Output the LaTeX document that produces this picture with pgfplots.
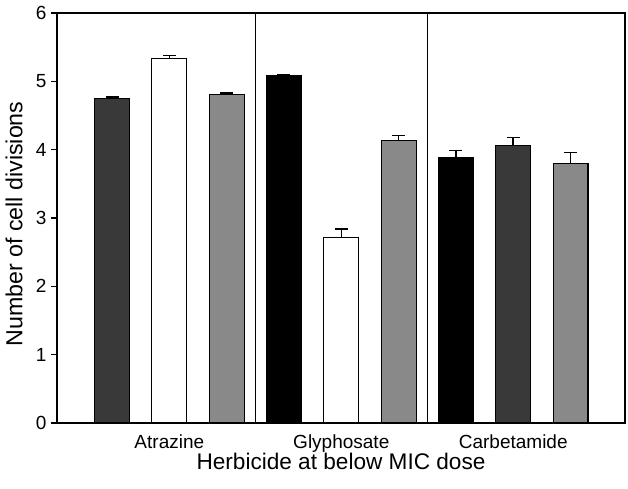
\documentclass[border=0pt]{standalone}
\usepackage{fontspec}
\setmainfont{Liberation Sans}
\usepackage{pgfplots}
\pgfplotsset{compat=1.18}
\definecolor{darkbar}{HTML}{393939}
\definecolor{greybar}{HTML}{898989}
\begin{document}
\begin{tikzpicture}
\begin{axis}[
  scale only axis,
  width=568bp, height=410bp,
  xmin=0.04, xmax=9.95,
  ymin=0, ymax=6,
  ytick={0,1,2,3,4,5,6},
  xtick={2,5,8},
  xticklabels={Atrazine,Glyphosate,Carbetamide},
  ytick pos=left,
  tick align=outside,
  major tick length=6bp,
  xtick style={draw=none},
  ytick style={black, line width=1.2bp},
  axis line style={black, line width=1.3bp},
  /pgf/number format/assume math mode=true,
  ticklabel style={font=\fontsize{19bp}{22bp}\selectfont},
  yticklabel style={xshift=-1bp},
  xticklabel style={yshift=-2bp},
  xlabel={Herbicide at below MIC dose},
  ylabel={Number of cell divisions},
  xlabel style={font=\fontsize{22.6bp}{26bp}\selectfont, at={(axis description cs:0.5,0)}, anchor=center, yshift=-38bp},
  ylabel style={font=\fontsize{23.2bp}{26bp}\selectfont, at={(axis description cs:0,0.5)}, anchor=center, rotate=0, yshift=43bp, xshift=-6bp},
  clip=false,
]
% dark grey bars
\addplot[ybar, bar width=0.61, bar shift=0pt, fill=darkbar, draw=black, line width=1.1bp,
  error bars/.cd, y dir=plus, y explicit,
  error bar style={line width=1.5bp, black},
  error mark options={rotate=90, line width=1.5bp, mark size=6.5bp, black}]
  coordinates {(1,4.75) +- (0,0.02) (8,4.06) +- (0,0.12)};
% white bars
\addplot[ybar, bar width=0.61, bar shift=0pt, fill=white, draw=black, line width=1.1bp,
  error bars/.cd, y dir=plus, y explicit,
  error bar style={line width=1.5bp, black},
  error mark options={rotate=90, line width=1.5bp, mark size=6.5bp, black}]
  coordinates {(2,5.33) +- (0,0.05) (5,2.72) +- (0,0.12)};
% grey bars
\addplot[ybar, bar width=0.61, bar shift=0pt, fill=greybar, draw=black, line width=1.1bp,
  error bars/.cd, y dir=plus, y explicit,
  error bar style={line width=1.5bp, black},
  error mark options={rotate=90, line width=1.5bp, mark size=6.5bp, black}]
  coordinates {(3,4.81) +- (0,0.02) (6,4.13) +- (0,0.08) (9,3.80) +- (0,0.16)};
% black bars
\addplot[ybar, bar width=0.61, bar shift=0pt, fill=black, draw=black, line width=1.1bp,
  error bars/.cd, y dir=plus, y explicit,
  error bar style={line width=1.5bp, black},
  error mark options={rotate=90, line width=1.5bp, mark size=6.5bp, black}]
  coordinates {(4,5.08) +- (0,0.02) (7,3.89) +- (0,0.10)};
\draw[black, line width=1.5bp] (axis cs:3.5,0) -- (axis cs:3.5,6);
\draw[black, line width=1.5bp] (axis cs:6.5,0) -- (axis cs:6.5,6);
\end{axis}
\path (current axis.south west) ++(-57bp,-66bp) coordinate (bbA);
\path (current axis.north east) ++(3bp,13bp) coordinate (bbB);
\path[use as bounding box] (bbA) rectangle (bbB);
\end{tikzpicture}
\end{document}
